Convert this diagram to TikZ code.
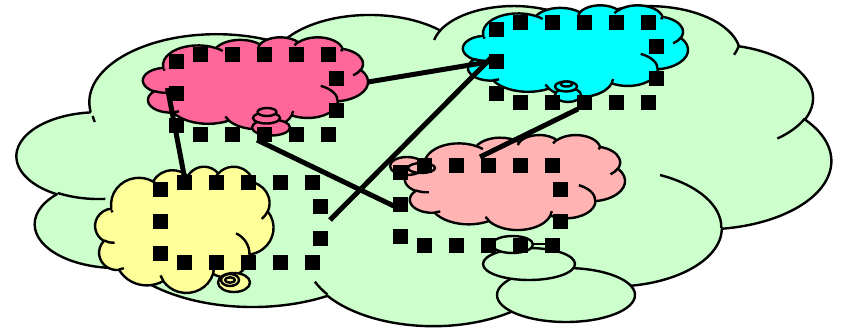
\documentclass[tikz,border=0pt]{standalone}
\definecolor{cgreen}{HTML}{CCFFCC}
\definecolor{cpink}{HTML}{FF6699}
\definecolor{ccyan}{HTML}{00FFFF}
\definecolor{cyellow}{HTML}{FFFF99}
\definecolor{clpink}{HTML}{FFB3B3}
\tikzset{
  cloudline/.style={line width=2.4pt, line join=round},
  tickline/.style={line width=2.4pt, line cap=butt},
  conn/.style={line width=5pt},
  hsq/.style={fill=black},
}
% cloud body: #1=x0, #2=y0, #3=W, #4=H, #5=fill colour
\newcommand{\mycloud}[5]{%
  \pgfmathsetmacro\csx{#3/432}%
  \pgfmathsetmacro\csy{#4/432}%
  \draw[cloudline, fill=#5] ({#1+39*\csx},{#2+143.70*\csy})
    arc[start angle=-172.25, delta angle=-128.12, x radius={67.53*\csx*1pt}, y radius={91.90*\csy*1pt}]
    arc[start angle=152.02, delta angle=-106.56, x radius={53.33*\csx*1pt}, y radius={72.67*\csy*1pt}]
    arc[start angle=153.49, delta angle=-116.17, x radius={43.65*\csx*1pt}, y radius={59.45*\csy*1pt}]
    arc[start angle=139.72, delta angle=-129.51, x radius={48.57*\csx*1pt}, y radius={65.95*\csy*1pt}]
    arc[start angle=74.77, delta angle=-97.99, x radius={53.33*\csx*1pt}, y radius={72.73*\csy*1pt}]
    arc[start angle=37.53, delta angle=-119.39, x radius={67.75*\csx*1pt}, y radius={92.20*\csy*1pt}]
    arc[start angle=-0.46, delta angle=-121.52, x radius={57.85*\csx*1pt}, y radius={78.67*\csy*1pt}]
    arc[start angle=-16.84, delta angle=-129.40, x radius={67.52*\csx*1pt}, y radius={92.15*\csy*1pt}]
    arc[start angle=-58.98, delta angle=-91.21, x radius={77.20*\csx*1pt}, y radius={105.43*\csy*1pt}]
    arc[start angle=-83.31, delta angle=-139.80, x radius={43.60*\csx*1pt}, y radius={59.18*\csy*1pt}]
    arc[start angle=-120.36, delta angle=-143.75, x radius={43.45*\csx*1pt}, y radius={59.45*\csy*1pt}]
    -- cycle;
  \draw[tickline]
    ({#1+46.93*\csx},{#2+261.77*\csy}) arc[start angle=-85.55, delta angle=-34.81, x radius={43.45*\csx*1pt}, y radius={59.45*\csy*1pt}]
    ({#1+69.28*\csx},{#2+348.99*\csy}) arc[start angle=-68.24, delta angle=-15.07, x radius={43.60*\csx*1pt}, y radius={59.18*\csy*1pt}]
    ({#1+164.78*\csx},{#2+390.90*\csy}) arc[start angle=-146.24, delta angle=-12.23, x radius={67.52*\csx*1pt}, y radius={92.15*\csy*1pt}]
    ({#1+288.27*\csx},{#2+347.51*\csy}) arc[start angle=-4.74, delta angle=-12.10, x radius={67.52*\csx*1pt}, y radius={92.15*\csy*1pt}]
    ({#1+341.29*\csx},{#2+229.54*\csy}) arc[start angle=64.03, delta angle=-64.49, x radius={57.85*\csx*1pt}, y radius={78.67*\csy*1pt}]
    ({#1+417.98*\csx},{#2+153.54*\csy}) arc[start angle=-23.22, delta angle=-26.42, x radius={53.33*\csx*1pt}, y radius={72.73*\csy*1pt}]
    ({#1+383.24*\csx},{#2+54.26*\csy}) arc[start angle=-10.21, delta angle=-11.67, x radius={48.57*\csx*1pt}, y radius={65.95*\csy*1pt}]
    ({#1+290.78*\csx},{#2+39.52*\csy}) arc[start angle=156.29, delta angle=-16.57, x radius={48.57*\csx*1pt}, y radius={65.95*\csy*1pt}]
    ({#1+221.41*\csx},{#2+47.20*\csy}) arc[start angle=167.72, delta angle=-14.23, x radius={43.65*\csx*1pt}, y radius={59.45*\csy*1pt}]
    ({#1+140.00*\csx},{#2+51.92*\csy}) arc[start angle=59.63, delta angle=-13.88, x radius={67.53*\csx*1pt}, y radius={91.90*\csy*1pt}]
    ({#1+41.27*\csx},{#2+157.89*\csy}) arc[start angle=-166.73, delta angle=-5.10, x radius={67.53*\csx*1pt}, y radius={91.90*\csy*1pt}];
}
% tail bubble: centre, radii, colour
\newcommand{\bubble}[5]{%
  \draw[cloudline, fill=#5] (#1,#2) ellipse [x radius=#3pt, y radius=#4pt];
}
% selection handles: #1=x0, #2=y0 (square centres)
\newcommand{\handles}[2]{%
  \foreach \hx/\hy in {0/7,0/39,0/71,160/24,160/56,24/0,56/0,88/0,120/0,152/0,24/80,56/80,88/80,120/80,152/80}{%
    \fill[hsq] ({#1+\hx-7.5},{#2+\hy-7.5}) rectangle ++(15,15);
  }%
}
\begin{document}
\begin{tikzpicture}[x=1pt,y=-1pt]
\useasboundingbox (0,0) rectangle (842,329);
% large green cloud with its tail
\mycloud{17}{5}{814}{320}{cgreen}
\bubble{566}{295}{69}{27}{cgreen}
\bubble{529}{264}{46}{16}{cgreen}
\bubble{512.5}{244.5}{20.5}{8.5}{cgreen}
\coordinate (gtail) at (533,244);
\coordinate (gtailend) at (553,244);
\draw[line width=2pt] (gtail) -- (gtailend);
% pink cloud
\mycloud{143}{37}{225}{92}{cpink}
\bubble{271}{127.5}{19}{8}{cpink}
\bubble{266.5}{118}{13.5}{5.5}{cpink}
\bubble{267}{112}{9.5}{4}{cpink}
% cyan cloud
\mycloud{463}{5}{225}{92}{ccyan}
\bubble{568}{95}{13}{7}{ccyan}
\bubble{566}{86.5}{11}{5}{ccyan}
\bubble{566.5}{84}{6}{2.5}{ccyan}
% yellow cloud
\mycloud{95.2}{166.3}{178.3}{126.2}{cyellow}
\bubble{234}{282.5}{16}{9.5}{cyellow}
\bubble{230}{280}{9}{6}{cyellow}
\bubble{230}{280}{5}{2.7}{cyellow}
% light pink cloud
\mycloud{405}{134.7}{220}{95}{clpink}
\bubble{407}{166}{17}{9}{clpink}
\bubble{421.5}{168}{13.5}{5}{clpink}
\bubble{425}{167}{6}{2.5}{clpink}
% connectors
\coordinate (pinkR) at (368,82);
\coordinate (cyanL) at (494,61);
\coordinate (yellowR) at (330,220);
\coordinate (cyanL2) at (492,57);
\coordinate (pinkB) at (257,140);
\coordinate (lpinkL) at (398,208);
\coordinate (pinkL) at (167.5,88);
\coordinate (yellowT) at (185,180);
\coordinate (cyanB) at (578,109);
\coordinate (lpinkT) at (480,157);
\draw[conn] (pinkR) -- (cyanL);
\draw[conn] (yellowR) -- (cyanL2);
\draw[conn] (pinkB) -- (lpinkL);
\draw[conn] (pinkL) -- (yellowT);
\draw[conn] (cyanB) -- (lpinkT);
% handles
\handles{176}{54.5}
\handles{496.5}{22.5}
\handles{160.5}{182.5}
\handles{400.5}{165.5}
\end{tikzpicture}
\end{document}
